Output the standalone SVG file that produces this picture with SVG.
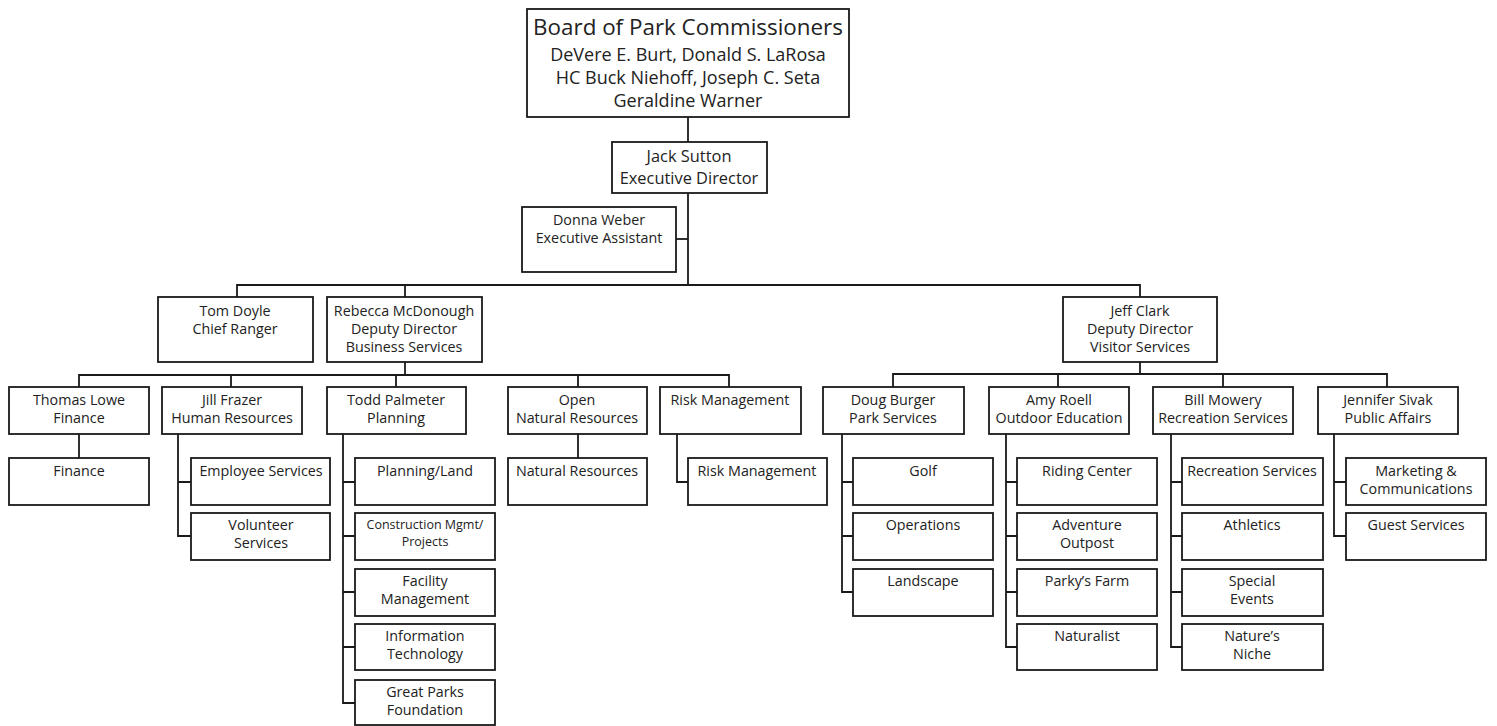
<svg xmlns="http://www.w3.org/2000/svg" width="1497" height="726" viewBox="0 0 1497 726">
<style>
.b{fill:#fff;stroke:#1a1a1a;stroke-width:1.8}
.t{font-family:"Open Sans","Noto Sans",sans-serif;font-size:14.3px;fill:#222;text-anchor:middle}
.s{font-size:12.5px}
.big{font-size:22.4px}
.mid{font-size:18px}
.j{font-size:16.4px}
.c{fill:none;stroke:#1a1a1a;stroke-width:1.8}
</style>
<rect width="1497" height="726" fill="#fff"/>
<g id="connectors" class="c">
<path d="M688 117V285"/>
<path d="M676 239H688"/>
<path d="M237 297V285H1140V297"/>
<path d="M405 285V297"/>
<path d="M405 362V375"/>
<path d="M79 387V375H729V387"/>
<path d="M231 375V387M396 375V387M578 375V387"/>
<path d="M1140 362V374"/>
<path d="M893 387V374H1387V387"/>
<path d="M1058 374V387M1223 374V387"/>
<path d="M79 434V458"/>
<path d="M178 434V536H191M178 482H191"/>
<path d="M343 434V703H355M343 482H355M343 536H355M343 592H355M343 647H355"/>
<path d="M578 434V458"/>
<path d="M677 434V482H688"/>
<path d="M842 434V592H853M842 482H853M842 536H853"/>
<path d="M1006 434V647H1017M1006 482H1017M1006 536H1017M1006 592H1017"/>
<path d="M1171 434V647H1182M1171 482H1182M1171 536H1182M1171 592H1182"/>
<path d="M1334 434V536H1346M1334 482H1346"/>
</g>
<g id="board"><rect class="b" x="527" y="9" width="322" height="108"/>
<text class="t big" x="688" y="35">Board of Park Commissioners</text>
<text class="t mid" x="688" y="61">DeVere E. Burt, Donald S. LaRosa</text>
<text class="t mid" x="688" y="84">HC Buck Niehoff, Joseph C. Seta</text>
<text class="t mid" x="688" y="107">Geraldine Warner</text></g>
<g id="jack"><rect class="b" x="612" y="142" width="155" height="51"/>
<text class="t j" x="689" y="162">Jack Sutton</text>
<text class="t j" x="689" y="184">Executive Director</text></g>
<g id="donna"><rect class="b" x="522" y="207" width="154" height="65"/>
<text class="t" x="599" y="225">Donna Weber</text>
<text class="t" x="599" y="243">Executive Assistant</text></g>
<g id="tom"><rect class="b" x="158" y="297" width="155" height="65"/>
<text class="t" x="235" y="316">Tom Doyle</text>
<text class="t" x="235" y="334">Chief Ranger</text></g>
<g id="rebecca"><rect class="b" x="327" y="297" width="155" height="65"/>
<text class="t" x="404" y="316">Rebecca McDonough</text>
<text class="t" x="404" y="334">Deputy Director</text>
<text class="t" x="404" y="352">Business Services</text></g>
<g id="jeff"><rect class="b" x="1063" y="297" width="154" height="65"/>
<text class="t" x="1140" y="316">Jeff Clark</text>
<text class="t" x="1140" y="334">Deputy Director</text>
<text class="t" x="1140" y="352">Visitor Services</text></g>
<g id="thomas"><rect class="b" x="9" y="387" width="140" height="47"/>
<text class="t" x="79" y="405">Thomas Lowe</text><text class="t" x="79" y="423">Finance</text></g>
<g id="jill"><rect class="b" x="162" y="387" width="140" height="47"/>
<text class="t" x="232" y="405">Jill Frazer</text><text class="t" x="232" y="423">Human Resources</text></g>
<g id="todd"><rect class="b" x="327" y="387" width="139" height="47"/>
<text class="t" x="396" y="405">Todd Palmeter</text><text class="t" x="396" y="423">Planning</text></g>
<g id="open"><rect class="b" x="508" y="387" width="139" height="47"/>
<text class="t" x="577" y="405">Open</text><text class="t" x="577" y="423">Natural Resources</text></g>
<g id="risk"><rect class="b" x="660" y="387" width="141" height="47"/>
<text class="t" x="730" y="405">Risk Management</text></g>
<g id="doug"><rect class="b" x="823" y="387" width="141" height="47"/>
<text class="t" x="893" y="405">Doug Burger</text><text class="t" x="893" y="423">Park Services</text></g>
<g id="amy"><rect class="b" x="989" y="387" width="140" height="47"/>
<text class="t" x="1059" y="405">Amy Roell</text><text class="t" x="1059" y="423">Outdoor Education</text></g>
<g id="bill"><rect class="b" x="1153" y="387" width="140" height="47"/>
<text class="t" x="1223" y="405">Bill Mowery</text><text class="t" x="1223" y="423">Recreation Services</text></g>
<g id="jennifer"><rect class="b" x="1318" y="387" width="140" height="47"/>
<text class="t" x="1388" y="405">Jennifer Sivak</text><text class="t" x="1388" y="423">Public Affairs</text></g>
<g id="finance"><rect class="b" x="9" y="458" width="140" height="47"/><text class="t" x="79" y="476">Finance</text></g>
<g id="employee"><rect class="b" x="191" y="458" width="139" height="47"/><text class="t" x="261" y="476">Employee Services</text></g>
<g id="volunteer"><rect class="b" x="191" y="513" width="139" height="47"/><text class="t" x="261" y="530">Volunteer</text><text class="t" x="261" y="548">Services</text></g>
<g id="planningland"><rect class="b" x="355" y="458" width="140" height="47"/><text class="t" x="425" y="476">Planning/Land</text></g>
<g id="construction"><rect class="b" x="355" y="513" width="140" height="47"/><text class="t s" x="425" y="529">Construction Mgmt/</text><text class="t s" x="425" y="546">Projects</text></g>
<g id="facility"><rect class="b" x="355" y="569" width="140" height="47"/><text class="t" x="425" y="586">Facility</text><text class="t" x="425" y="604">Management</text></g>
<g id="it"><rect class="b" x="355" y="624" width="140" height="46"/><text class="t" x="425" y="641">Information</text><text class="t" x="425" y="659">Technology</text></g>
<g id="greatparks"><rect class="b" x="355" y="680" width="140" height="45"/><text class="t" x="425" y="697">Great Parks</text><text class="t" x="425" y="715">Foundation</text></g>
<g id="natural"><rect class="b" x="508" y="458" width="139" height="47"/><text class="t" x="577" y="476">Natural Resources</text></g>
<g id="riskchild"><rect class="b" x="688" y="458" width="139" height="47"/><text class="t" x="757" y="476">Risk Management</text></g>
<g id="golf"><rect class="b" x="853" y="458" width="140" height="47"/><text class="t" x="923" y="476">Golf</text></g>
<g id="operations"><rect class="b" x="853" y="513" width="140" height="47"/><text class="t" x="923" y="530">Operations</text></g>
<g id="landscape"><rect class="b" x="853" y="569" width="140" height="47"/><text class="t" x="923" y="586">Landscape</text></g>
<g id="riding"><rect class="b" x="1017" y="458" width="140" height="47"/><text class="t" x="1087" y="476">Riding Center</text></g>
<g id="adventure"><rect class="b" x="1017" y="513" width="140" height="47"/><text class="t" x="1087" y="530">Adventure</text><text class="t" x="1087" y="548">Outpost</text></g>
<g id="parky"><rect class="b" x="1017" y="569" width="140" height="47"/><text class="t" x="1087" y="586">Parky’s Farm</text></g>
<g id="naturalist"><rect class="b" x="1017" y="624" width="140" height="46"/><text class="t" x="1087" y="641">Naturalist</text></g>
<g id="recservices"><rect class="b" x="1182" y="458" width="141" height="47"/><text class="t" x="1252" y="476">Recreation Services</text></g>
<g id="athletics"><rect class="b" x="1182" y="513" width="141" height="47"/><text class="t" x="1252" y="530">Athletics</text></g>
<g id="special"><rect class="b" x="1182" y="569" width="141" height="47"/><text class="t" x="1252" y="586">Special</text><text class="t" x="1252" y="604">Events</text></g>
<g id="natureniche"><rect class="b" x="1182" y="624" width="141" height="46"/><text class="t" x="1252" y="641">Nature’s</text><text class="t" x="1252" y="659">Niche</text></g>
<g id="marketing"><rect class="b" x="1346" y="458" width="140" height="47"/><text class="t" x="1416" y="476">Marketing &amp;</text><text class="t" x="1416" y="494">Communications</text></g>
<g id="guest"><rect class="b" x="1346" y="513" width="140" height="47"/><text class="t" x="1416" y="530">Guest Services</text></g>
</svg>
